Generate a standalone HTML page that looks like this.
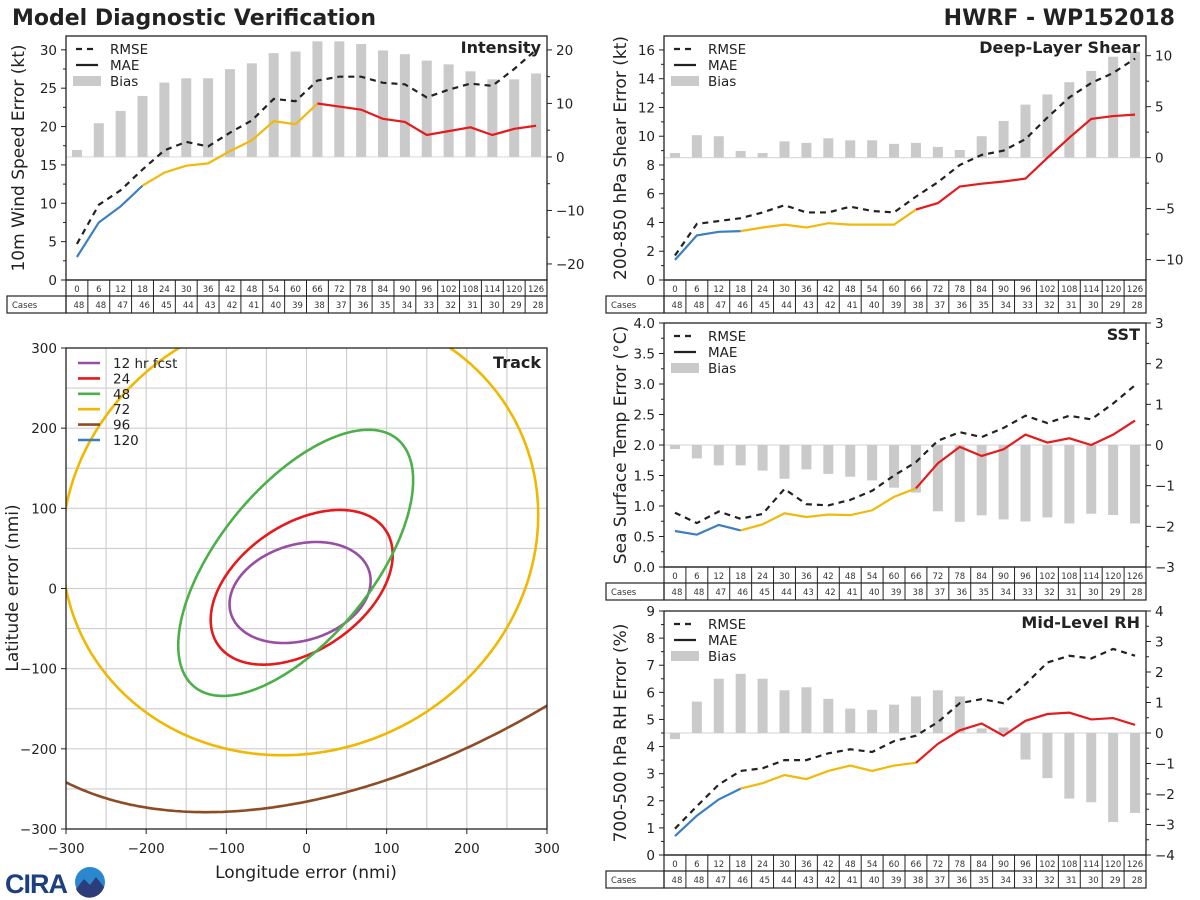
<!DOCTYPE html>
<html><head><meta charset="utf-8"><title>Model Diagnostic Verification</title>
<style>
html,body{margin:0;padding:0;background:#fff;}
svg{display:block;font-family:"DejaVu Sans","Liberation Sans",sans-serif;}
</style></head>
<body>
<svg id="chart" xmlns="http://www.w3.org/2000/svg" width="1200" height="900" viewBox="0 0 1200 900">
<rect x="0" y="0" width="1200" height="900" fill="#fff"/>
<text x="12" y="25" font-size="22" font-weight="bold" fill="#222">Model Diagnostic Verification</text>
<text x="1175" y="25" font-size="22" font-weight="bold" fill="#222" text-anchor="end">HWRF - WP152018</text>
<g>
<text x="5" y="893" font-size="27" font-weight="bold" fill="#1d3f80" font-family="Liberation Sans, sans-serif" letter-spacing="-1">CIRA</text>
<circle cx="90" cy="882" r="15" fill="#2a88d0"/>
<path d="M76 889 L84 879 L90 885 L96 877 L104 887 A15 15 0 0 1 76 889 Z" fill="#2c3d7a"/>
</g>
</svg>
<script>
const hours=[0,6,12,18,24,30,36,42,48,54,60,66,72,78,84,90,96,102,108,114,120,126];
const cases=[48,48,47,46,45,44,43,42,41,40,39,38,37,36,35,34,33,32,31,30,29,28];

const intRmse=[4.7,9.8,11.7,14.4,16.9,18.0,17.4,19.2,20.8,23.6,23.3,26.0,26.5,26.5,25.7,25.5,23.8,24.8,25.6,25.3,27.5,30.0];
const intMae=[3.0,7.5,9.6,12.3,14.0,14.9,15.2,16.8,18.2,20.7,20.3,23.0,22.6,22.2,21.0,20.6,18.9,19.4,19.9,18.9,19.7,20.1];
const intBias=[1.3,6.3,8.6,11.4,13.9,14.7,14.7,16.4,17.5,19.4,19.7,21.6,21.6,21.1,19.9,19.2,18.0,17.3,16.0,14.5,14.5,15.6];

const shrRmse=[1.7,3.9,4.1,4.3,4.7,5.2,4.7,4.7,5.1,4.8,4.7,5.8,6.8,8.0,8.7,9.0,9.8,11.3,12.7,13.7,14.4,15.4];
const shrMae=[1.4,3.1,3.35,3.4,3.65,3.85,3.65,3.95,3.85,3.85,3.85,4.9,5.35,6.5,6.7,6.85,7.05,8.5,9.9,11.2,11.4,11.5];
const shrBias=[0.45,2.2,2.1,0.65,0.45,1.6,1.45,1.9,1.7,1.7,1.35,1.45,1.05,0.75,2.1,3.6,5.2,6.2,7.4,8.5,9.9,10.4];

const sstRmse=[0.89,0.72,0.91,0.79,0.87,1.28,1.03,1.01,1.1,1.25,1.5,1.72,2.07,2.21,2.13,2.28,2.48,2.36,2.48,2.42,2.68,2.98];
const sstMae=[0.59,0.53,0.69,0.6,0.7,0.88,0.82,0.86,0.85,0.93,1.15,1.29,1.7,1.97,1.82,1.93,2.17,2.04,2.11,2.0,2.17,2.4];
const sstBias=[-0.1,-0.33,-0.5,-0.5,-0.63,-0.83,-0.6,-0.71,-0.78,-0.87,-1.05,-1.17,-1.63,-1.89,-1.73,-1.83,-1.88,-1.78,-1.93,-1.69,-1.72,-1.93];

const rhRmse=[0.97,1.8,2.6,3.1,3.2,3.5,3.5,3.75,3.9,3.8,4.2,4.4,4.9,5.6,5.75,5.6,6.3,7.1,7.35,7.25,7.6,7.35];
const rhMae=[0.7,1.45,2.05,2.45,2.65,2.95,2.8,3.1,3.3,3.1,3.3,3.4,4.1,4.6,4.85,4.4,4.95,5.2,5.25,5.0,5.05,4.8];
const rhBias=[-0.2,1.03,1.78,1.94,1.78,1.4,1.5,1.12,0.8,0.76,0.93,1.2,1.4,1.2,0.15,0.18,-0.87,-1.48,-2.15,-2.27,-2.92,-2.62];

const intLeftTicks=[0,5,10,15,20,25,30];
const intRightTicks=[-20,-10,0,10,20];
const shrLeftTicks=[0,2,4,6,8,10,12,14,16];
const shrRightTicks=[-10,-5,0,5,10];
const sstLeftTicks=[0,0.5,1,1.5,2,2.5,3,3.5,4];
const sstRightTicks=[-3,-2,-1,0,1,2,3];
const rhLeftTicks=[0,1,2,3,4,5,6,7,8,9];
const rhRightTicks=[-4,-3,-2,-1,0,1,2,3,4];

// Track ellipses: [cx, cy, sx, sy, rho]
const trackLabels=["12 hr fcst","24","48","72","96","120"];
const trackColors=["#984ea3","#e41a1c","#4daf4a","#f0b800","#8b4c26","#377eb8"];
const trackEllipses=[[-8,-5,88,63,0.23],[-6,1.5,113.5,96.5,0.42],[-13.5,32,146.5,166,0.62],[-8,71,297,279,0.074],[163,241,600,520,0.48]];
const trackTicks=[-300,-200,-100,0,100,200,300];

const NS="http://www.w3.org/2000/svg";
const svg=document.getElementById('chart');
function mk(tag,attrs,parent,text){const e=document.createElementNS(NS,tag);for(const k in attrs)e.setAttribute(k,attrs[k]);if(text!==undefined)e.textContent=text;(parent||svg).appendChild(e);return e;}

const segColors=[["#3a7fc1",0,3],["#f0b90b",3,11],["#e41a1c",11,21]];

function panel(p){
  const g=mk('g',{});
  
  
  const n=hours.length, w=(p.x1-p.x0)/n;
  const xs=i=>p.x0+w*(i+0.5);
  const yl=v=>p.y1-(v-p.lmin)/(p.lmax-p.lmin)*(p.y1-p.y0);
  const yr=v=>p.y1-(v-p.rmin)/(p.rmax-p.rmin)*(p.y1-p.y0);
  const zl=mk('line',{x1:p.x0,x2:p.x1,y1:yr(0),y2:yr(0),stroke:'#dcdcdc','stroke-width':1.2},g);
  
  
  p.bias.forEach((b,i)=>{
    const y0=yr(0),y1=yr(b);
    const r=mk('rect',{x:xs(i)-5,y:Math.min(y0,y1),width:10,height:Math.abs(y1-y0),fill:'#cacaca'},g);
    
    
  });
  const rp=p.rmse.map((v,i)=>xs(i)+','+yl(v)).join(' ');
  const rl=mk('polyline',{points:rp,fill:'none',stroke:'#222','stroke-width':2.2,'stroke-dasharray':'6,5'},g);
  
  
  segColors.forEach(([c,a,b])=>{
    const pts=[];for(let i=a;i<=b;i++)pts.push(xs(i)+','+yl(p.mae[i]));
    const l=mk('polyline',{points:pts.join(' '),fill:'none',stroke:c,'stroke-width':2.2},g);
    
    
  });
  mk('rect',{x:p.x0,y:p.y0,width:p.x1-p.x0,height:p.y1-p.y0,fill:'none',stroke:'#222','stroke-width':1.3},g);
  p.lt.forEach(v=>{
    const y=yl(v);
    mk('line',{x1:p.x0-5,x2:p.x0,y1:y,y2:y,stroke:'#222'},g);
    const t=mk('text',{x:p.x0-9,y:y+5,'font-size':13.5,'text-anchor':'end',fill:'#222'},g,p.lf(v));
    
    
  });
  for(let i=0;i<p.lt.length-1;i++){const y=yl((p.lt[i]+p.lt[i+1])/2);mk('line',{x1:p.x0-3,x2:p.x0,y1:y,y2:y,stroke:'#222'},g);}
  p.rt.forEach(v=>{
    const y=yr(v);
    mk('line',{x1:p.x1,x2:p.x1+5,y1:y,y2:y,stroke:'#222'},g);
    const t=mk('text',{x:p.x1+9,y:y+5,'font-size':13.5,fill:'#222'},g,v<0?'\u2212'+(-v):String(v));
    
    
  });
  for(let i=0;i<p.rt.length-1;i++){const y=yr((p.rt[i]+p.rt[i+1])/2);mk('line',{x1:p.x1,x2:p.x1+3,y1:y,y2:y,stroke:'#222'},g);}
  const cy=(p.y0+p.y1)/2;
  const yt=mk('text',{x:p.lx,y:cy,'font-size':17,'text-anchor':'middle',fill:'#222',transform:`rotate(-90 ${p.lx} ${cy})`},g,p.ylabel);
  
  
  const tt=mk('text',{x:p.x1-6,y:p.y0+17,'font-size':16,'font-weight':'bold','text-anchor':'end',fill:'#222'},g,p.title);
  
  
  const lg=mk('g',{},g);
  
  
  const lx=p.x0+10;
  mk('line',{x1:lx,x2:lx+22,y1:p.y0+13,y2:p.y0+13,stroke:'#222','stroke-width':2.2,'stroke-dasharray':'6,5'},lg);
  mk('text',{x:lx+34,y:p.y0+18,'font-size':13.5,fill:'#222'},lg,'RMSE');
  mk('line',{x1:lx,x2:lx+22,y1:p.y0+29,y2:p.y0+29,stroke:'#222','stroke-width':2.2},lg);
  mk('text',{x:lx+34,y:p.y0+34,'font-size':13.5,fill:'#222'},lg,'MAE');
  mk('rect',{x:lx-3,y:p.y0+40,width:28,height:10,fill:'#cacaca'},lg);
  mk('text',{x:lx+34,y:p.y0+50,'font-size':13.5,fill:'#222'},lg,'Bias');
  const tb=mk('g',{},g);
  
  
  const r0=p.y1,r1=p.y1+16,r2=p.y1+33;
  mk('rect',{x:p.x0,y:r0,width:p.x1-p.x0,height:r2-r0,fill:'none',stroke:'#222','stroke-width':1.2},tb);
  mk('rect',{x:p.cx,y:r1,width:p.x0-p.cx,height:r2-r1,fill:'none',stroke:'#222','stroke-width':1.2},tb);
  mk('line',{x1:p.x0,x2:p.x1,y1:r1,y2:r1,stroke:'#222','stroke-width':1.2},tb);
  mk('text',{x:p.cx+5,y:r1+12,'font-size':8.5,fill:'#333'},tb,'Cases');
  hours.forEach((h,i)=>{
    if(i>0)mk('line',{x1:p.x0+w*i,x2:p.x0+w*i,y1:r0,y2:r2,stroke:'#222','stroke-width':1},tb);
    mk('text',{x:xs(i),y:r0+12,'font-size':8.5,'text-anchor':'middle',fill:'#333'},tb,String(h));
    mk('text',{x:xs(i)+2,y:r1+12,'font-size':8.5,'text-anchor':'middle',fill:'#333'},tb,String(cases[i]));
  });
}

const fmtInt=v=>String(v), fmt1=v=>v.toFixed(1);
panel({name:'intensity',x0:66,x1:547,y0:36,y1:280,lmin:0,lmax:31.8,rmin:-23,rmax:22.6,lt:intLeftTicks,rt:intRightTicks,lf:fmtInt,rmse:intRmse,mae:intMae,bias:intBias,title:'Intensity',ylabel:'10m Wind Speed Error (kt)',lx:24,cx:7});
panel({name:'shear',x0:664,x1:1146,y0:36,y1:280,lmin:0,lmax:16.97,rmin:-12,rmax:11.93,lt:shrLeftTicks,rt:shrRightTicks,lf:fmtInt,rmse:shrRmse,mae:shrMae,bias:shrBias,title:'Deep-Layer Shear',ylabel:'200-850 hPa Shear Error (kt)',lx:626,cx:606});
panel({name:'sst',x0:664,x1:1146,y0:323,y1:567,lmin:0,lmax:4,rmin:-3,rmax:3,lt:sstLeftTicks,rt:sstRightTicks,lf:fmt1,rmse:sstRmse,mae:sstMae,bias:sstBias,title:'SST',ylabel:'Sea Surface Temp Error (\u00B0C)',lx:626,cx:606});
panel({name:'rh',x0:664,x1:1146,y0:611,y1:855,lmin:0,lmax:9,rmin:-4,rmax:4,lt:rhLeftTicks,rt:rhRightTicks,lf:fmtInt,rmse:rhRmse,mae:rhMae,bias:rhBias,title:'Mid-Level RH',ylabel:'700-500 hPa RH Error (%)',lx:626,cx:606});

(function(){
  const X0=66,X1=547,Y0=348,Y1=829;
  const tx=v=>X0+(v+300)/600*(X1-X0);
  const ty=v=>Y1-(v+300)/600*(Y1-Y0);
  const g=mk('g',{});
  
  
  const defs=mk('defs',{},g);
  const cp=mk('clipPath',{id:'trackclip'},defs);
  mk('rect',{x:X0,y:Y0,width:X1-X0,height:Y1-Y0},cp);
  for(let v=-250;v<=250;v+=50){
    mk('line',{x1:tx(v),x2:tx(v),y1:Y0,y2:Y1,stroke:'#cfcfcf','stroke-width':1.2},g);
    mk('line',{x1:X0,x2:X1,y1:ty(v),y2:ty(v),stroke:'#cfcfcf','stroke-width':1.2},g);
  }
  const eg=mk('g',{'clip-path':'url(#trackclip)'},g);
  trackEllipses.forEach((e,k)=>{
    const [cx,cy,sx,sy,r]=e;const pts=[];
    for(let i=0;i<=720;i++){const t=i*Math.PI/360;
      const x=cx+sx*Math.cos(t);const y=cy+sy*(r*Math.cos(t)+Math.sqrt(1-r*r)*Math.sin(t));
      pts.push(tx(x).toFixed(1)+','+ty(y).toFixed(1));}
    const pl=mk('polyline',{points:pts.join(' '),fill:'none',stroke:trackColors[k],'stroke-width':2.6},eg);
    
    
  });
  mk('rect',{x:X0,y:Y0,width:X1-X0,height:Y1-Y0,fill:'none',stroke:'#222','stroke-width':1.3},g);
  trackTicks.forEach(v=>{
    const lab=v<0?'\u2212'+(-v):String(v);
    mk('line',{x1:tx(v),x2:tx(v),y1:Y1,y2:Y1+5,stroke:'#222'},g);
    const a=mk('text',{x:tx(v),y:Y1+24,'font-size':13.5,'text-anchor':'middle',fill:'#222'},g,lab);
    
    
    mk('line',{x1:X0-5,x2:X0,y1:ty(v),y2:ty(v),stroke:'#222'},g);
    const b=mk('text',{x:X0-9,y:ty(v)+5,'font-size':13.5,'text-anchor':'end',fill:'#222'},g,lab);
    
    
  });
  const xt=mk('text',{x:306,y:878,'font-size':17,'text-anchor':'middle',fill:'#222'},g,'Longitude error (nmi)');
  
  
  const yt=mk('text',{x:18,y:588,'font-size':17,'text-anchor':'middle',fill:'#222',transform:'rotate(-90 18 588)'},g,'Latitude error (nmi)');
  
  
  const tt=mk('text',{x:X1-6,y:Y0+20,'font-size':16,'font-weight':'bold','text-anchor':'end',fill:'#222'},g,'Track');
  
  
  const lg=mk('g',{},g);
  
  
  trackLabels.forEach((l,k)=>{
    const y=Y0+15+k*15.4;
    mk('line',{x1:78,x2:100,y1:y,y2:y,stroke:trackColors[k],'stroke-width':2.6},lg);
    const t=mk('text',{x:113,y:y+5,'font-size':13.5,fill:'#222'},lg,l);
    
    
  });
})();
</script>
</body></html>
